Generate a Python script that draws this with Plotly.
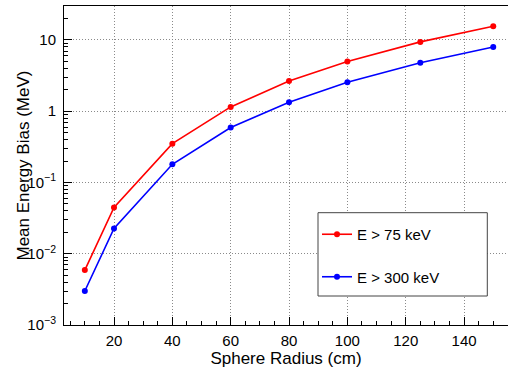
import plotly.graph_objects as go

radius = [10, 20, 40, 60, 80, 100, 125, 150]
bias_75 = [0.0059, 0.0446, 0.351, 1.15, 2.66, 5.0, 9.4, 15.6]
bias_300 = [0.0030, 0.0226, 0.180, 0.59, 1.34, 2.55, 4.8, 7.97]
series_names = ["E > 75 keV", "E > 300 keV"]
y_tickvals = [1e-3, 1e-2, 1e-1, 1, 10]
y_ticktext = ["10<sup>−3</sup>", "10<sup>−2</sup>", "10<sup>−1</sup>", "1", "10"]
x_tickvals = [20, 40, 60, 80, 100, 120, 140]

FONT = "Liberation Sans, Arial, Helvetica, sans-serif"

fig = go.Figure()
for name, vals, col, grp in [(series_names[0], bias_75, "#ff0000", "a"),
                             (series_names[1], bias_300, "#0000ff", "b")]:
    fig.add_trace(go.Scatter(
        x=radius, y=vals, mode="lines+markers", name=name, legendgroup=grp,
        line=dict(color=col, width=1.6),
        marker=dict(color=col, size=6, symbol="circle"),
    ))

minor_y = [m * 10 ** e for e in range(-3, 2) for m in range(2, 10)]
minor_x = [v for v in range(5, 156, 5) if v % 20 != 0]

GRID = dict(showgrid=True, gridcolor="#8a8a8a", griddash="1px,2px", gridwidth=1, zeroline=False)

fig.update_layout(
    width=508, height=368,
    margin=dict(l=64, r=0, t=6, b=43),
    paper_bgcolor="white", plot_bgcolor="white",
    font=dict(family=FONT, color="black", size=15),
    showlegend=True,
    legend=dict(x=(317 - 64) / 444, y=(325 - 218) / 319, xanchor="left", yanchor="top",
                bgcolor="rgba(0,0,0,0)", borderwidth=0, tracegroupgap=20,
                font=dict(size=15, family=FONT)),
    xaxis=dict(
        range=[2.86, 155.06], showline=True, linecolor="black", linewidth=1, mirror=True,
        tickmode="array", tickvals=x_tickvals, ticks="inside", ticklen=8, tickcolor="black",
        minor=dict(tickmode="array", tickvals=minor_x, ticks="inside", ticklen=4,
                   tickcolor="black", showgrid=False),
        tickfont=dict(size=15), ticklabelstandoff=2,
        title=dict(text="Sphere Radius (cm)", font=dict(size=17), standoff=6),
        **GRID,
    ),
    yaxis=dict(
        type="log", range=[-3, 1.477], showline=True, linecolor="black", linewidth=1,
        tickmode="array", tickvals=y_tickvals, ticktext=y_ticktext,
        ticks="inside", ticklen=8, tickcolor="black",
        minor=dict(tickmode="array", tickvals=minor_y, ticks="inside", ticklen=4,
                   tickcolor="black", showgrid=False),
        tickfont=dict(size=15), ticklabelstandoff=4,
        **GRID,
    ),
    annotations=[dict(text="Mean Energy Bias (MeV)", xref="paper", yref="paper",
                      x=(23 - 64) / 444, y=0.5, xanchor="center", yanchor="middle",
                      textangle=-90, showarrow=False, font=dict(size=17, family=FONT))],
    shapes=[dict(type="rect", xref="paper", yref="paper",
                 x0=(318 - 64) / 444, x1=(487.3 - 64) / 444,
                 y0=(325 - 296) / 319, y1=(325 - 212.7) / 319,
                 line=dict(color="#444", width=1), fillcolor="white", layer="above")],
)

fig.write_html("out.html")
